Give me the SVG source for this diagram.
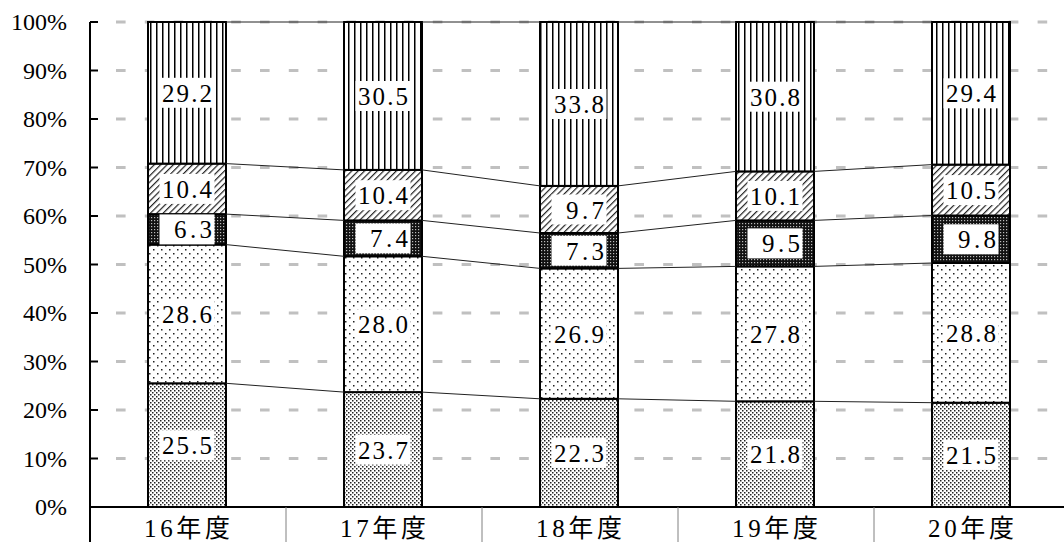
<svg xmlns="http://www.w3.org/2000/svg" width="1064" height="542" viewBox="0 0 1064 542" font-family="'Liberation Serif', 'Noto Sans CJK JP', serif">
<style>
.ax{font-size:24px;text-anchor:end}
.cat{font-size:25px;text-anchor:middle}
.lb{font-size:25px;text-anchor:end}
.grid line{stroke:#c0c0c0;stroke-width:3;stroke-dasharray:9.6 19.2}
.seg{stroke:#000;stroke-width:2}
.box{fill:#fff}
.conn line{stroke:#222;stroke-width:1}
</style>
<defs>
<pattern id="pA" width="4" height="4" patternUnits="userSpaceOnUse"><rect width="4" height="4" fill="#fff"/><rect x="0" y="0" width="1.5" height="1.5" fill="#222"/><rect x="2" y="2" width="1.5" height="1.5" fill="#222"/></pattern>
<pattern id="pB" width="8" height="8" patternUnits="userSpaceOnUse"><rect width="8" height="8" fill="#fff"/><rect x="1" y="1" width="1.5" height="1.5" fill="#222"/><rect x="5" y="5" width="1.5" height="1.5" fill="#222"/></pattern>
<pattern id="pC" width="3" height="3" patternUnits="userSpaceOnUse"><rect width="3" height="3" fill="#111"/><rect x="1" y="1" width="1.2" height="1.2" fill="#bbb"/></pattern>
<pattern id="pD" width="4.5" height="4.5" patternUnits="userSpaceOnUse" patternTransform="rotate(45)"><rect width="4.5" height="4.5" fill="#fff"/><rect x="0" y="0" width="1.2" height="4.5" fill="#222"/></pattern>
<pattern id="pE" width="6" height="6" patternUnits="userSpaceOnUse"><rect width="6" height="6" fill="#fff"/><rect x="0" y="0" width="1.5" height="6" fill="#000"/></pattern>
</defs>
<rect width="1064" height="542" fill="#fff"/>
<g class="grid">
<line x1="116" y1="22" x2="1064" y2="22"/>
<line x1="116" y1="70.5" x2="1064" y2="70.5"/>
<line x1="116" y1="119" x2="1064" y2="119"/>
<line x1="116" y1="167.5" x2="1064" y2="167.5"/>
<line x1="116" y1="216" x2="1064" y2="216"/>
<line x1="116" y1="264.5" x2="1064" y2="264.5"/>
<line x1="116" y1="313" x2="1064" y2="313"/>
<line x1="116" y1="361.5" x2="1064" y2="361.5"/>
<line x1="116" y1="410" x2="1064" y2="410"/>
<line x1="116" y1="458.5" x2="1064" y2="458.5"/>
</g>
<g id="bar16">
<rect class="seg" x="148" y="383.3" width="78" height="123.7" fill="url(#pA)"/>
<rect class="seg" x="148" y="244.6" width="78" height="138.7" fill="url(#pB)"/>
<rect class="seg" x="148" y="214.1" width="78" height="30.5" fill="url(#pC)"/>
<rect class="seg" x="148" y="163.6" width="78" height="50.5" fill="url(#pD)"/>
<rect class="seg" x="148" y="22" width="78" height="141.6" fill="url(#pE)"/>
<rect class="box" x="159.5" y="430.2" width="55" height="30"/><text class="lb" x="212" y="454.2" textLength="50">25.5</text>
<rect class="box" x="159.5" y="299" width="55" height="30"/><text class="lb" x="212" y="323" textLength="50">28.6</text>
<rect class="box" x="159.5" y="214.4" width="55" height="30"/><text class="lb" x="212" y="238.4" textLength="38">6.3</text>
<rect class="box" x="159.5" y="173.9" width="55" height="30"/><text class="lb" x="212" y="197.9" textLength="50">10.4</text>
<rect class="box" x="159.5" y="77.8" width="55" height="30"/><text class="lb" x="212" y="101.8" textLength="50">29.2</text>
</g>
<g id="bar17">
<rect class="seg" x="344" y="392.1" width="78" height="114.9" fill="url(#pA)"/>
<rect class="seg" x="344" y="256.3" width="78" height="135.8" fill="url(#pB)"/>
<rect class="seg" x="344" y="220.4" width="78" height="35.9" fill="url(#pC)"/>
<rect class="seg" x="344" y="169.9" width="78" height="50.5" fill="url(#pD)"/>
<rect class="seg" x="344" y="22" width="78" height="147.9" fill="url(#pE)"/>
<rect class="box" x="355.5" y="434.6" width="55" height="30"/><text class="lb" x="408" y="458.6" textLength="50">23.7</text>
<rect class="box" x="355.5" y="309.2" width="55" height="30"/><text class="lb" x="408" y="333.2" textLength="50">28.0</text>
<rect class="box" x="355.5" y="223.4" width="55" height="30"/><text class="lb" x="408" y="247.4" textLength="38">7.4</text>
<rect class="box" x="355.5" y="180.2" width="55" height="30"/><text class="lb" x="408" y="204.2" textLength="50">10.4</text>
<rect class="box" x="355.5" y="81" width="55" height="30"/><text class="lb" x="408" y="105" textLength="50">30.5</text>
</g>
<g id="bar18">
<rect class="seg" x="540" y="398.8" width="78" height="108.2" fill="url(#pA)"/>
<rect class="seg" x="540" y="268.4" width="78" height="130.4" fill="url(#pB)"/>
<rect class="seg" x="540" y="233" width="78" height="35.4" fill="url(#pC)"/>
<rect class="seg" x="540" y="185.9" width="78" height="47.1" fill="url(#pD)"/>
<rect class="seg" x="540" y="22" width="78" height="163.9" fill="url(#pE)"/>
<rect class="box" x="551.5" y="437.9" width="55" height="30"/><text class="lb" x="604" y="461.9" textLength="50">22.3</text>
<rect class="box" x="551.5" y="318.6" width="55" height="30"/><text class="lb" x="604" y="342.6" textLength="50">26.9</text>
<rect class="box" x="551.5" y="235.7" width="55" height="30"/><text class="lb" x="604" y="259.7" textLength="38">7.3</text>
<rect class="box" x="551.5" y="194.5" width="55" height="30"/><text class="lb" x="604" y="218.5" textLength="38">9.7</text>
<rect class="box" x="551.5" y="89" width="55" height="30"/><text class="lb" x="604" y="113" textLength="50">33.8</text>
</g>
<g id="bar19">
<rect class="seg" x="736" y="401.3" width="78" height="105.7" fill="url(#pA)"/>
<rect class="seg" x="736" y="266.4" width="78" height="134.9" fill="url(#pB)"/>
<rect class="seg" x="736" y="220.4" width="78" height="46" fill="url(#pC)"/>
<rect class="seg" x="736" y="171.4" width="78" height="49" fill="url(#pD)"/>
<rect class="seg" x="736" y="22" width="78" height="149.4" fill="url(#pE)"/>
<rect class="box" x="747.5" y="439.2" width="55" height="30"/><text class="lb" x="800" y="463.2" textLength="50">21.8</text>
<rect class="box" x="747.5" y="318.9" width="55" height="30"/><text class="lb" x="800" y="342.9" textLength="50">27.8</text>
<rect class="box" x="747.5" y="228.4" width="55" height="30"/><text class="lb" x="800" y="252.4" textLength="38">9.5</text>
<rect class="box" x="747.5" y="180.9" width="55" height="30"/><text class="lb" x="800" y="204.9" textLength="50">10.1</text>
<rect class="box" x="747.5" y="81.7" width="55" height="30"/><text class="lb" x="800" y="105.7" textLength="50">30.8</text>
</g>
<g id="bar20">
<rect class="seg" x="932" y="402.7" width="78" height="104.3" fill="url(#pA)"/>
<rect class="seg" x="932" y="263" width="78" height="139.7" fill="url(#pB)"/>
<rect class="seg" x="932" y="215.5" width="78" height="47.5" fill="url(#pC)"/>
<rect class="seg" x="932" y="164.6" width="78" height="50.9" fill="url(#pD)"/>
<rect class="seg" x="932" y="22" width="78" height="142.6" fill="url(#pE)"/>
<rect class="box" x="943.5" y="439.9" width="55" height="30"/><text class="lb" x="996" y="463.9" textLength="50">21.5</text>
<rect class="box" x="943.5" y="317.9" width="55" height="30"/><text class="lb" x="996" y="341.9" textLength="50">28.8</text>
<rect class="box" x="943.5" y="224.3" width="55" height="30"/><text class="lb" x="996" y="248.3" textLength="38">9.8</text>
<rect class="box" x="943.5" y="175.1" width="55" height="30"/><text class="lb" x="996" y="199.1" textLength="50">10.5</text>
<rect class="box" x="943.5" y="78.3" width="55" height="30"/><text class="lb" x="996" y="102.3" textLength="50">29.4</text>
</g>
<g id="connectors" class="conn">
<line x1="226" y1="383.3" x2="344" y2="392.1"/>
<line x1="226" y1="244.6" x2="344" y2="256.3"/>
<line x1="226" y1="214.1" x2="344" y2="220.4"/>
<line x1="226" y1="163.6" x2="344" y2="169.9"/>
<line x1="226" y1="22" x2="344" y2="22"/>
<line x1="422" y1="392.1" x2="540" y2="398.8"/>
<line x1="422" y1="256.3" x2="540" y2="268.4"/>
<line x1="422" y1="220.4" x2="540" y2="233"/>
<line x1="422" y1="169.9" x2="540" y2="185.9"/>
<line x1="422" y1="22" x2="540" y2="22"/>
<line x1="618" y1="398.8" x2="736" y2="401.3"/>
<line x1="618" y1="268.4" x2="736" y2="266.4"/>
<line x1="618" y1="233" x2="736" y2="220.4"/>
<line x1="618" y1="185.9" x2="736" y2="171.4"/>
<line x1="618" y1="22" x2="736" y2="22"/>
<line x1="814" y1="401.3" x2="932" y2="402.7"/>
<line x1="814" y1="266.4" x2="932" y2="263"/>
<line x1="814" y1="220.4" x2="932" y2="215.5"/>
<line x1="814" y1="171.4" x2="932" y2="164.6"/>
<line x1="814" y1="22" x2="932" y2="22"/>
</g>
<g id="axes" stroke="#000" stroke-width="2">
<line x1="90" y1="22" x2="90" y2="542"/>
<line x1="89" y1="507" x2="1064" y2="507"/>
<line x1="90" y1="22" x2="98" y2="22"/>
<line x1="90" y1="70.5" x2="98" y2="70.5"/>
<line x1="90" y1="119" x2="98" y2="119"/>
<line x1="90" y1="167.5" x2="98" y2="167.5"/>
<line x1="90" y1="216" x2="98" y2="216"/>
<line x1="90" y1="264.5" x2="98" y2="264.5"/>
<line x1="90" y1="313" x2="98" y2="313"/>
<line x1="90" y1="361.5" x2="98" y2="361.5"/>
<line x1="90" y1="410" x2="98" y2="410"/>
<line x1="90" y1="458.5" x2="98" y2="458.5"/>
</g>
<g id="catsep" stroke="#808080" stroke-width="1">
<line x1="286" y1="507" x2="286" y2="542"/>
<line x1="482" y1="507" x2="482" y2="542"/>
<line x1="678" y1="507" x2="678" y2="542"/>
<line x1="874" y1="507" x2="874" y2="542"/>
</g>
<g id="ylabels">
<text class="ax" x="67" y="30">100%</text>
<text class="ax" x="67" y="78.5">90%</text>
<text class="ax" x="67" y="127">80%</text>
<text class="ax" x="67" y="175.5">70%</text>
<text class="ax" x="67" y="224">60%</text>
<text class="ax" x="67" y="272.5">50%</text>
<text class="ax" x="67" y="321">40%</text>
<text class="ax" x="67" y="369.5">30%</text>
<text class="ax" x="67" y="418">20%</text>
<text class="ax" x="67" y="466.5">10%</text>
<text class="ax" x="67" y="515">0%</text>
</g>
<g id="xlabels">
<text class="cat" x="187" y="537" textLength="86">16年度</text>
<text class="cat" x="383" y="537" textLength="86">17年度</text>
<text class="cat" x="579" y="537" textLength="86">18年度</text>
<text class="cat" x="775" y="537" textLength="86">19年度</text>
<text class="cat" x="971" y="537" textLength="86">20年度</text>
</g>
</svg>
